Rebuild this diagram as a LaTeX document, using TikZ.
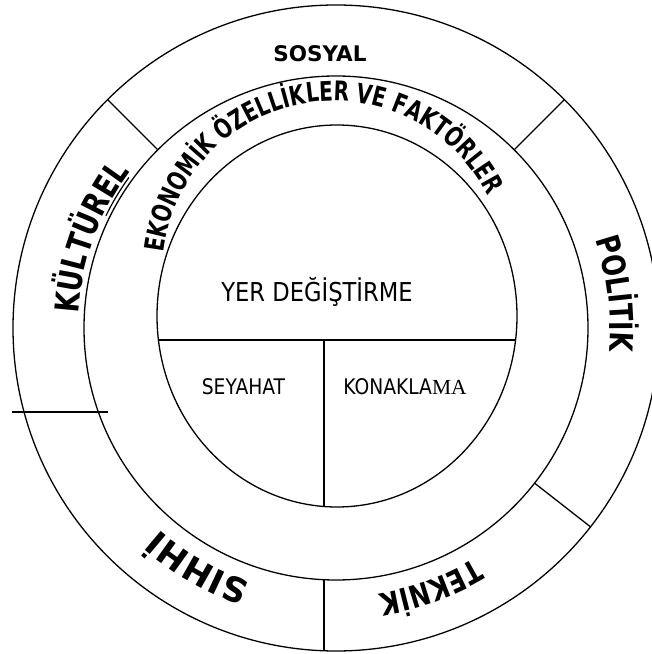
\documentclass[tikz,border=0pt]{standalone}
\usepackage{fontspec}
\setmainfont{DejaVu Sans}
\newfontfamily\regf[FakeStretch=0.87]{DejaVu Sans}
\newfontfamily\arcf[FakeStretch=0.8]{DejaVu Sans}
\newfontfamily\arcn[FakeStretch=0.74]{DejaVu Sans}
\newfontfamily\serf{Liberation Serif}
\usetikzlibrary{decorations.text,calc}
\begin{document}
\begin{tikzpicture}[x=1pt,y=1pt,
  ring/.style={line width=1.3pt},
  lbl/.style={inner sep=0pt, anchor=base},
  arctext/.style={decorate, decoration={text along path, text align=center, text={#1}}}
]
\useasboundingbox (0,0) rectangle (652,654);
\clip (0,0) rectangle (652,654);
\coordinate (C) at (336,326);
\coordinate (IC) at (337,338);
\coordinate (TC) at (334,381);
% circles
\draw[ring] (C) circle[radius=323];
\draw[ring] (C) circle[radius=252];
\draw[ring] (IC) ellipse[x radius=180, y radius=191];
% inner divisions
\coordinate (hl) at (158.4,314);
\coordinate (hr) at (515.6,314);
\coordinate (vt) at (324,314);
\coordinate (vb) at (324,147.5);
\draw[ring] (hl) -- (hr);
\draw[ring] (vt) -- (vb);
% outer ring divisions
\coordinate (d1a) at ($(C)+(135:252)$);
\coordinate (d1b) at ($(C)+(135:323)$);
\coordinate (d2a) at ($(C)+(45:252)$);
\coordinate (d2b) at ($(C)+(45:323)$);
\coordinate (d3a) at ($(C)+(-38:252)$);
\coordinate (d3b) at ($(C)+(-38:323)$);
\coordinate (d4a) at (324,74.3);
\coordinate (d4b) at (324,3.2);
\coordinate (d5a) at (12,242);
\coordinate (d5b) at (108,242);
\draw[ring] (d1a) -- (d1b);
\draw[ring] (d2a) -- (d2b);
\draw[ring] (d3a) -- (d3b);
\draw[ring] (d4a) -- (d4b);
\draw[ring] (d5a) -- (d5b);
% straight labels
\node[lbl] (sosyal) at (320,592) {\bfseries\fontsize{21.5}{25}\selectfont SOSYAL};
\node[lbl] (yer) at (317,352) {\regf\fontsize{26}{30}\selectfont YER DEĞİŞTİRME};
\node[lbl] (seyahat) at (243.5,259) {\regf\fontsize{21.5}{25}\selectfont SEYAHAT};
\node[lbl] (konak) at (405,259) {\regf\fontsize{21.5}{25}\selectfont KONAKLA{\serf MA}};
% curved labels
\path[arctext={|\arcn\bfseries\fontsize{27}{31}\selectfont|EKONOMİK ÖZELLİKLER VE FAKTÖRLER}]
  (TC) ++(185:172) arc[start angle=185, end angle=15, radius=172];
\path[arctext={|\arcf\bfseries\fontsize{33}{37}\selectfont|KÜLTÜREL}]
  (C) ++(189.8:258) arc[start angle=189.8, end angle=129.8, radius=258];
\draw[line width=1.2pt] (C) ++(154:256) arc[start angle=154, end angle=144, radius=256];
\path[arctext={|\arcf\bfseries\fontsize{32}{36}\selectfont|POLİTİK}]
  (C) ++(37:274) arc[start angle=37, end angle=-23, radius=274];
\path[arctext={|\bfseries\fontsize{34}{38}\selectfont|SIHHİ}]
  (C) ++(-90:268) arc[start angle=-90, end angle=-150, radius=268];
\path[arctext={|\arcf\bfseries\fontsize{31}{35}\selectfont|TEKNİK}]
  (C) ++(-40:269) arc[start angle=-40, end angle=-100, radius=269];
\end{tikzpicture}
\end{document}
